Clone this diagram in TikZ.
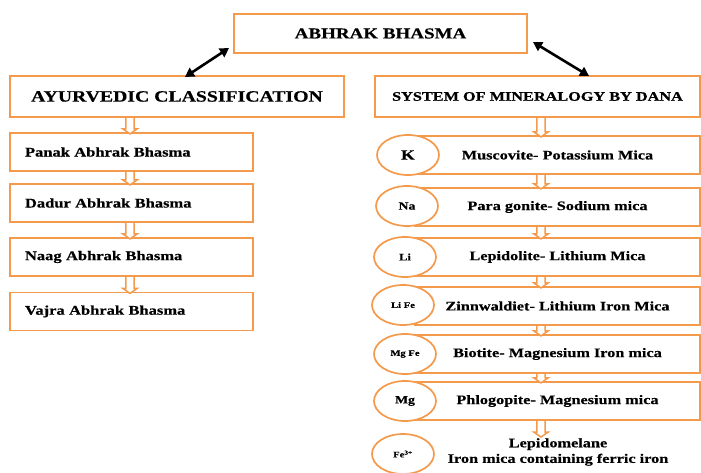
\documentclass[tikz,border=0pt]{standalone}
\usepackage{fontspec}
\setmainfont{Liberation Serif}[FakeStretch=1.25, BoldFeatures={FakeBold=0.5}]
\usetikzlibrary{shapes.geometric,shapes.arrows,arrows.meta,calc}
\definecolor{org}{RGB}{244,154,76}
\newcommand\fsz[1]{\fontsize{#1}{1.2\dimexpr #1pt\relax}\selectfont}
\newcommand\harrow[4]{%
  \path let \p1=(#3.south), \p2=(#4.north), \n1={\y1-\y2+2.5} in
    node[harr, minimum height=\n1, anchor=tail] (#1) at (#2pt,\y1+1.5pt) {};}
\begin{document}
\begin{tikzpicture}[x=1pt,y=-1pt,
  box/.style={draw=org, line width=1.7pt, fill=white, inner sep=0pt, font=\bfseries},
  lbox/.style={box, text width=213pt, inner xsep=15pt, minimum height=38pt, align=left, font=\bfseries\fsz{13.2}},
  rbox/.style={box, minimum width=285pt, minimum height=38pt, font=\bfseries\fsz{13}},
  ell/.style={ellipse, draw=org, line width=1.7pt, fill=white, minimum width=62pt, minimum height=40pt, inner sep=0pt, font=\bfseries},
  harr/.style={single arrow, draw=org, line width=1.5pt, fill=white, inner xsep=0pt, inner ysep=3.4pt,
     single arrow head extend=3pt, single arrow tip angle=110, rotate=-90},
  dbl/.style={{Triangle[length=9pt,width=10pt]}-{Triangle[length=9pt,width=10pt]}, line width=2.6pt, black}]
\useasboundingbox (0,0) rectangle (701,473);
% top
\node[box, minimum width=293pt, minimum height=39pt, font=\bfseries\fsz{15.2}] (top) at (380.5,33.5) {ABHRAK BHASMA};
\node[box, minimum width=334pt, minimum height=41pt, font=\bfseries\fsz{15.8}] (ayur) at (177,96.5) {AYURVEDIC CLASSIFICATION};
\node[box, minimum width=325pt, minimum height=41pt, font=\bfseries\fsz{13}] (dana) at (537.5,96.5) {SYSTEM OF MINERALOGY BY DANA};
% double arrows
\coordinate (la) at (185,77);
\coordinate (lb) at (229,48);
\coordinate (ra) at (533,42);
\coordinate (rb) at (589,76);
\draw[dbl] (la) -- (lb);
\draw[dbl] (ra) -- (rb);
% left column
\node[lbox] (panak) at (131.5,152) {Panak Abhrak Bhasma};
\node[lbox] (dadur) at (131.5,203) {Dadur Abhrak Bhasma};
\node[lbox] (naag) at (131.5,257) {Naag Abhrak Bhasma};
\node[lbox] (vajra) at (131.5,311.5) {Vajra Abhrak Bhasma};
\harrow{a1}{130}{ayur}{panak}
\harrow{a2}{130}{panak}{dadur}
\harrow{a3}{130}{dadur}{naag}
\harrow{a4}{130}{naag}{vajra}
% right column
\node[rbox] (musc) at (557.5,155) {Muscovite- Potassium Mica};
\node[rbox] (para) at (557.5,207) {Para gonite- Sodium mica};
\node[rbox] (lepi) at (557.5,257) {Lepidolite- Lithium Mica};
\node[rbox] (zinn) at (557.5,306) {Zinnwaldiet- Lithium Iron Mica};
\node[rbox] (bio) at (557.5,354) {Biotite- Magnesium Iron mica};
\node[rbox] (phlo) at (557.5,401) {Phlogopite- Magnesium mica};
\node[font=\bfseries\fsz{13}, align=center, inner sep=0pt] (lepm) at (558,452) {Lepidomelane\\Iron mica containing ferric iron};
\harrow{b1}{541}{dana}{musc}
\harrow{b2}{541}{musc}{para}
\harrow{b3}{541}{para}{lepi}
\harrow{b4}{541}{lepi}{zinn}
\harrow{b5}{541}{zinn}{bio}
\harrow{b6}{541}{bio}{phlo}
\path let \p1=(phlo.south) in node[harr, minimum height=17pt, anchor=tail] (b7) at (541pt,\y1+1.5pt) {};
% ellipses
\node[ell, font=\bfseries\fsz{14}] (e1) at (408,155) {K};
\node[ell, font=\bfseries\fsz{11}] (e2) at (407,206) {Na};
\node[ell, font=\bfseries\fsz{10}] (e3) at (405,257) {Li};
\node[ell, font=\bfseries\fsz{8.5}] (e4) at (403,305) {Li Fe};
\node[ell, font=\bfseries\fsz{8.5}] (e5) at (405,354) {Mg Fe};
\node[ell, font=\bfseries\fsz{11}] (e6) at (405,401) {Mg};
\node[ell, font=\bfseries\fsz{8.5}] (e7) at (403,454) {Fe\textsuperscript{3+}};
\end{tikzpicture}
\end{document}
